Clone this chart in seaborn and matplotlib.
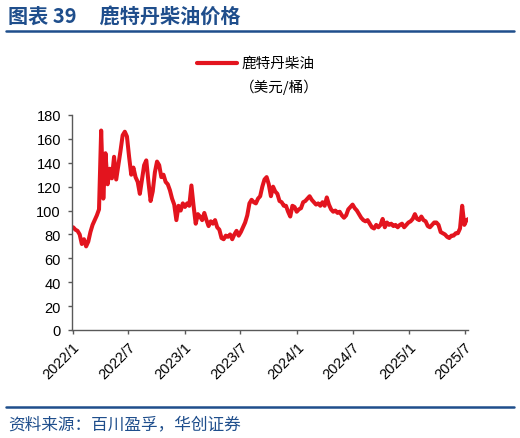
import matplotlib
matplotlib.use("Agg")
import matplotlib.pyplot as plt
import seaborn as sns
import pandas as pd

# ---- data (weekly readings, USD/barrel) ----
start_date = "2022-01-03"
prices = [
    86, 84, 83, 80, 72, 76, 70, 74, 82, 88,
    92, 96, 101, 167, 110, 148, 122, 135, 127, 145,
    126, 138, 150, 163, 166, 162, 145, 130, 136, 128,
    124, 114, 126, 138, 142, 124, 108, 116, 132, 141,
    138, 128, 130, 124, 122, 117, 110, 105, 92, 104,
    100, 106, 103, 106, 104, 121, 104, 89, 97, 95,
    92, 98, 92, 87, 91, 89, 92, 86, 84, 77,
    76, 79, 78, 80, 76, 80, 83, 79, 82, 86,
    90, 96, 106, 109, 107, 106, 110, 112, 120, 126,
    128, 122, 112, 120, 116, 114, 108, 107, 104, 104,
    99, 95, 104, 103, 99, 101, 102, 107, 108, 110,
    112, 109, 107, 105, 106, 104, 107, 104, 111, 105,
    101, 99, 100, 98, 99, 96, 94, 96, 101, 103,
    105, 102, 100, 97, 94, 92, 91, 92, 89, 86,
    85, 88, 86, 88, 93, 86, 90, 88, 89, 87,
    88, 86, 88, 89, 86, 88, 90, 91, 93, 97,
    93, 92, 95, 92, 91, 87, 86, 88, 90, 90,
    88, 82, 81, 80, 78, 77, 79, 79, 81, 81,
    85, 104, 88, 92, 93,
]
series_name = "鹿特丹柴油"
series_unit = "（美元/桶）"
x_tick_labels = ["2022/1", "2022/7", "2023/1", "2023/7",
                 "2024/1", "2024/7", "2025/1", "2025/7"]
y_ticks = [0, 20, 40, 60, 80, 100, 120, 140, 160, 180]

dates = pd.date_range(start_date, periods=len(prices), freq="7D")
df = pd.DataFrame({"date": dates, "price": prices})

sns.set_theme(style="white")
plt.rcParams["font.family"] = ["Liberation Sans", "Noto Sans CJK SC", "DejaVu Sans"]

blue = "#1F4E8C"
red = "#E3141E"
axis_col = "#595959"

fig = plt.figure(figsize=(5.2, 4.39), dpi=100)
ax = fig.add_axes([72 / 520, 1 - 331 / 439, (468 - 72) / 520, (331 - 116) / 439])

sns.lineplot(data=df, x="date", y="price", ax=ax, color=red, linewidth=2.9,
             legend=False)

ax.set_ylim(0, 180)
ax.set_yticks(y_ticks)
tick_dates = [pd.Timestamp(s.replace("/", "-") + "-01") for s in x_tick_labels]
ax.set_xlim(pd.Timestamp("2021-12-30"), pd.Timestamp("2025-07-12"))
ax.set_xticks(tick_dates)
ax.set_xticklabels(x_tick_labels, rotation=45, ha="right", rotation_mode="anchor",
                   fontsize=10.5, color="black")
ax.tick_params(axis="y", labelsize=10.5, colors="black", length=3, width=1,
               direction="out", left=True, pad=5)
ax.tick_params(axis="x", length=3, width=1, direction="out", bottom=True, pad=4)
ax.tick_params(axis="both", color=axis_col)
ax.set_xlabel("")
ax.set_ylabel("")
for s in ["top", "right"]:
    ax.spines[s].set_visible(False)
for s in ["left", "bottom"]:
    ax.spines[s].set_color(axis_col)
    ax.spines[s].set_linewidth(1)
ax.grid(False)

# title and rules
cjk = ["Noto Sans CJK SC", "DejaVu Sans"]
fig.text(8 / 520, 1 - 17 / 439, "图表 39     鹿特丹柴油价格", family=cjk,
         fontsize=14.5, fontweight="bold", color=blue, va="center", ha="left")
fig.add_artist(plt.Line2D([6 / 520, 514 / 520], [1 - 32 / 439, 1 - 32 / 439],
                          color=blue, linewidth=1.8))
fig.add_artist(plt.Line2D([6 / 520, 514 / 520], [1 - 408 / 439, 1 - 408 / 439],
                          color=blue, linewidth=1.8))
fig.text(8 / 520, 1 - 425 / 439, "资料来源：百川盈孚，华创证券", family=cjk,
         fontsize=12, style="italic", color=blue, va="center", ha="left")

# legend
fig.add_artist(plt.Line2D([197 / 520, 237 / 520], [1 - 64 / 439, 1 - 64 / 439],
                          color=red, linewidth=3))
fig.text(242 / 520, 1 - 64 / 439, series_name, family=cjk, fontsize=10.5,
         color="black", va="center", ha="left")
fig.text(240 / 520, 1 - 87 / 439, series_unit, family=cjk, fontsize=10.5,
         color="black", va="center", ha="left")

fig.savefig("out.png", dpi=100)
